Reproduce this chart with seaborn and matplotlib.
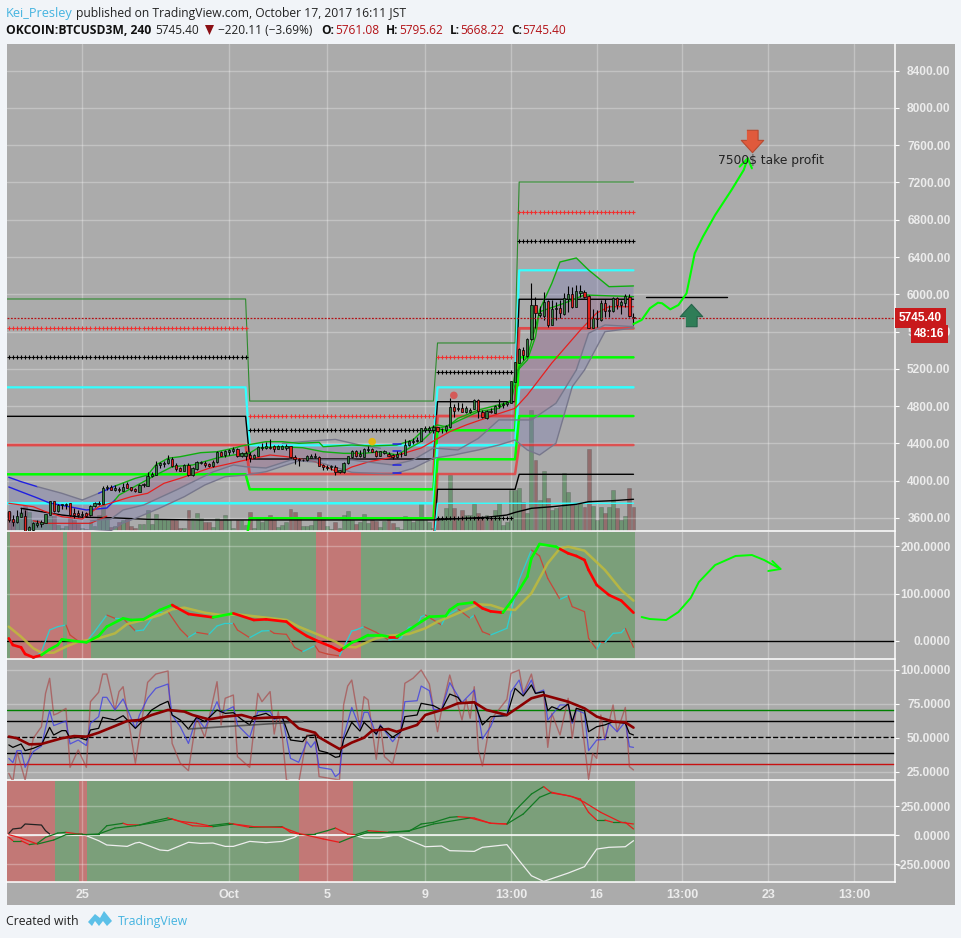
import numpy as np
import pandas as pd
import matplotlib
matplotlib.use("Agg")
import matplotlib.pyplot as plt
from matplotlib.patches import Rectangle, Polygon
import seaborn as sns

W, H = 962, 938

# candles, one row of values per 4h bar
opens = [3675,3589,3561,3614,3621,3435,3471,3528,3536,3550,3636,3782,3679,3736,3743,3757,3657,3650,3636,3654,3629,3729,3754,3754,3918,3933,3900,3911,3893,3968,3929,3908,3883,3950,3947,4051,4065,4169,4180,4187,4233,4169,4137,4108,4169,4058,4126,4190,4194,4176,4162,4204,4305,4280,4305,4319,
         4340,4269,4269,4276,4247,4269,4347,4347,4362,4372,4344,4344,4347,4369,4254,4233,4219,4219,4247,4254,4258,4165,4140,4143,4147,4097,4097,4186,4254,4315,4262,4258,4333,4340,4315,4269,4297,4290,4279,4258,4283,4279,4383,4419,4426,4430,4548,4544,4548,4573,4551,4541,4576,4794,4766,4776,
         4741,4741,4773,4862,4737,4673,4748,4730,4805,4812,4823,4837,5063,5267,5403,5338,5517,5882,5775,5767,5925,5674,5839,5850,5789,5946,6003,5868,6018,6021,5982,5642,5731,5724,5903,5817,5825,5957,5882,5910,5968,5761]
highs = [3675,3632,3686,3704,3686,3514,3561,3579,3579,3643,3786,3786,3750,3750,3757,3757,3704,3686,3679,3668,3736,3772,3786,3943,3954,3954,3954,3929,3972,3990,3936,3918,3961,3979,4094,4094,4215,4204,4215,4276,4258,4187,4151,4180,4194,4144,4215,4215,4215,4194,4222,4322,4315,4330,4337,4358,
         4347,4312,4319,4312,4283,4376,4401,4412,4448,4383,4383,4383,4390,4376,4276,4247,4233,4276,4283,4294,4269,4176,4169,4169,4169,4115,4197,4269,4326,4330,4326,4347,4376,4354,4330,4322,4326,4312,4290,4319,4312,4448,4437,4455,4469,4569,4591,4591,4598,4580,4569,4598,4891,4820,4841,4830,
         4802,4777,4873,4873,4759,4759,4777,4812,4873,4848,4859,5073,5277,5420,5431,5528,6118,5975,5875,6028,5939,5939,5921,5939,6010,6089,6082,6100,6100,6046,5993,5839,5832,5939,5946,5885,5975,5975,5939,6003,6003,5795]
lows = [3561,3514,3543,3607,3453,3430,3464,3507,3500,3543,3632,3664,3668,3693,3693,3621,3596,3607,3607,3607,3621,3722,3739,3750,3900,3900,3893,3883,3893,3918,3893,3883,3879,3929,3943,4044,4061,4137,4144,4180,4151,4108,4101,4104,4051,4051,4115,4180,4144,4144,4151,4194,4265,4258,4276,4301,
        4258,4258,4222,4197,4240,4265,4330,4340,4340,4312,4340,4337,4330,4240,4183,4158,4211,4211,4240,4240,4154,4118,4111,4118,4061,4083,4079,4179,4247,4254,4258,4254,4312,4305,4258,4265,4283,4262,4233,4247,4254,4276,4376,4397,4419,4426,4526,4526,4512,4526,4508,4519,4569,4687,4748,4734,
        4723,4730,4766,4669,4669,4666,4723,4723,4777,4777,4802,4830,5056,5259,5295,5324,5510,5635,5753,5724,5653,5671,5724,5742,5778,5814,5850,5860,5975,5957,5635,5635,5646,5717,5760,5760,5814,5839,5789,5868,5753,5668]
closes = [3579,3561,3621,3654,3453,3500,3543,3550,3557,3643,3779,3672,3739,3747,3754,3632,3636,3636,3643,3621,3729,3757,3764,3918,3929,3904,3925,3897,3936,3922,3900,3890,3954,3961,4051,4076,4169,4187,4194,4230,4158,4129,4108,4169,4061,4137,4197,4204,4165,4162,4204,4312,4269,4315,4330,4337,
          4265,4297,4297,4247,4276,4362,4362,4369,4347,4344,4369,4372,4372,4251,4236,4226,4226,4262,4265,4269,4161,4147,4151,4154,4093,4111,4190,4262,4319,4269,4283,4340,4340,4312,4265,4315,4319,4269,4258,4287,4290,4387,4426,4426,4437,4562,4562,4569,4576,4537,4558,4583,4794,4748,4777,4741,
          4780,4759,4866,4752,4680,4748,4734,4805,4812,4823,4841,5066,5270,5410,5345,5521,5882,5796,5796,5921,5674,5839,5853,5796,5957,6003,5868,6032,6032,5975,5642,5742,5746,5903,5817,5832,5957,5882,5914,5982,5771,5745]
volume = [19,11,9,19,25,19,11,11,9,11,15,15,6,3,5,13,11,7,3,2,9,5,16,26,13,4,5,9,11,12,5,3,7,7,21,7,17,12,12,11,12,11,3,3,21,13,18,13,9,9,4,13,11,16,11,3,
          11,11,6,19,3,12,9,14,16,11,4,6,9,22,19,14,5,5,6,11,19,14,5,2,9,3,16,20,11,7,9,17,8,11,10,4,10,12,8,4,2,15,13,9,11,29,11,9,3,13,13,23,56,23,12,21,
          16,16,27,18,13,16,13,21,28,6,9,41,41,43,29,18,121,71,31,60,33,21,23,24,58,39,28,26,28,24,82,25,11,24,18,24,41,23,11,15,43,24]

# pivot levels, one value per period
step_bars = [-0.4, 58, 59, 104, 105, 124, 125, 153]
r3_level = [5950, 4855, 5478, 7205]
r2_level = [5639, 4691, 5324, 6883]
r1_level = [5327, 4541, 5163, 6568]
pp_level = [5002, 4380, 5002, 6258]
p2_level = [4691, 4233, 4848, 5947]
s1_level = [4383, 4072, 4694, 5635]
s2_level = [4069, 3908, 4541, 5324]
s3_level = [3758, 3758, 4380, 5002]
s4_level = [3300, 3597, 4230, 4694]
s5_level = [3300, 3300, 4072, 4383]
s6_level = [3300, 3300, 3908, 4069]
s7_level = [3300, 3300, 3758, 3758]
period_bars = [(0, 58), (59, 104), (105, 123), (125, 153)]
low_plus_level = 3597

# bands
upper_x = [0,3,7,13,18,22,26,31,34,36,39,42,47,51,55,57,63,67,71,76,77,84,89,95,99,101,105,107,115,120,123,124,127,129,130,133,135,139,142,145,147,153]
upper_y = [4037,3990,3936,3865,3793,3865,3943,4026,4061,4169,4241,4258,4301,4311,4348,4373,4419,4419,4401,4412,4365,4383,4373,4383,4437,4523,4598,4580,4741,4777,4866,5156,5295,5545,5832,6118,6347,6390,6261,6154,6082,6090]
inner_x = [0,3,7,10,19,24,26,27,33,36,40,45,51,55,59,61,66,72,77,82,87,91,95,101,104,108,110,115,123,125,127,130,136,141,153]
inner_y = [3933,3882,3815,3761,3686,3707,3793,3847,3989,4061,4150,4169,4244,4276,4297,4351,4365,4354,4311,4294,4294,4311,4276,4419,4544,4598,4670,4759,4848,5223,5331,5813,5904,5993,5975]
mid_x = [0,6,9,13,18,22,30,34,38,42,49,58,64,68,75,81,84,88,93,101,108,112,119,124,127,133,140,144,147,153]
mid_y = [3758,3721,3668,3614,3589,3721,3829,3865,3972,4026,4133,4222,4276,4258,4204,4083,4147,4201,4244,4351,4526,4598,4705,4777,4920,5263,5617,5800,5867,5867]
lower_x = [0,25,28,32,37,43,48,53,58,63,71,76,84,94,99,104,109,115,120,124,127,130,134,138,141,146,153]
lower_y = [3400,3464,3546,3614,3707,3829,3954,4043,4061,4097,4212,4198,4090,4069,4133,4241,4276,4330,4383,4437,4330,4276,4401,5009,5188,5599,5639]
lower2_x = [20,25,28,33,41,50,55,58,63,69,84,94,99,104,110,115,120,128,134,139,142,146,153]
lower2_y = [3568,3589,3686,3739,3900,4094,4169,4150,4137,4222,4222,4169,4222,4351,4330,4454,4652,4652,4831,5188,5582,5671,5653]
upper_gray_x = [67,74,80,86,91]
upper_gray_y = [4401,4426,4443,4383,4348]
blue_dash_x = [94, 96]
blue_dash_levels = [4394, 4319, 4165, 4083]
red_low_x = [6, 9, 20, 24]
red_low_y = [3570, 3543, 3543, 3620]
ma_x = [3,8,13,18,25,34,47,58,70,85,104,117,122,124,128,133,139,142,148,153]
ma_y = [3704,3668,3632,3608,3603,3586,3579,3579,3579,3579,3579,3608,3632,3660,3704,3721,3747,3775,3786,3801]
last_price = 5745.40

# drawing on the future side of the chart
trend_x = [156, 176]
trend_y = [5970, 5970]
path_x = [153,155,157,159,160,162,164,166,167,168,170,173,177,180,181]
path_y = [5682,5725,5850,5910,5904,5839,5885,6011,6225,6440,6618,6851,7119,7334,7459]
path_head_x = [179, 181, 182]
path_head_y = [7370, 7459, 7352]
sell_x, sell_y = [182], [7645]
buy_x, buy_y = [167], [5778]
dot_x = [89, 109]
dot_y = [4419, 4916]

# first oscillator panel
zone2_red = [(0.3, 13.3), (14.3, 20.2), (75.2, 86.3)]
zone2_green = [(-0.44, 0.3), (13.3, 14.3), (20.2, 75.2), (86.3, 153.4)]
wt_x = [0,1,3,4,6,8,10,12,13,16,19,22,24,28,30,33,37,40,41,44,50,55,60,63,68,70,73,76,79,81,82,84,86,88,91,93,95,98,101,103,107,108,110,114,116,118,121,123,125,127,128,130,134,135,137,139,141,142,144,147,150,153]
wt_y = [5.6,-8.4,-13.3,-27.4,-34.4,-29.5,-17.5,-8.4,3.5,0,-2.8,10.5,30.2,47.7,44.2,45.6,65.3,75.8,70.9,56.8,49.8,58.2,44.2,45.6,40.7,26.7,10.5,-1.4,-11.9,-20.4,-15.4,-3.5,3.5,12.6,12.6,9.1,9.1,23.2,40.7,51.2,52.6,65.3,77.2,81.4,68.8,62.5,59.6,82.8,107.4,135.4,174,204.2,198.6,193.7,184.6,179,170.5,149.5,117.9,96.8,84.9,59.6]
wt_green = [(8.5, 39.5), (49.7, 55), (82.3, 92.5), (95.4, 114.2), (121.5, 134.6)]
signal_x = [0,3,6,8,11,14,17,22,26,29,33,37,40,43,48,52,56,61,68,71,76,80,82,85,88,90,93,98,102,105,109,115,118,121,124,128,132,135,137,141,146,150,153]
signal_y = [30.2,9.1,-15.4,-24.6,-24.6,-11.9,-1.4,5.6,16.1,35.8,44.2,54.7,66.7,70.2,59.6,54.7,56.1,51.2,44.2,30.2,12.6,-1.4,-11.9,-13.3,-1.4,5.6,11.2,14.7,26.7,40.7,54.7,77.2,75.8,67.4,65.3,100.4,163.5,195.1,198.6,190.2,149.5,107.4,84.9]
fast_x = [0,3,6,8,10,12,14,15,17,19,21,24,26,28,31,33,35,37,39,42,44,46,49,51,53,55,56,59,62,64,65,68,70,72,75,76,78,81,84,85,87,90,93,96,98,100,101,102,106,107,110,113,114,116,118,122,125,128,130,132,135,137,138,141,142,144,145,146,148,150,151,153]
fast_y = [-45,-45,-38,-22.5,23.2,30.2,33.7,12.6,0,-1.4,19.6,54.7,47.7,47.7,21.1,23.2,47.7,61.8,61.8,24.6,7.7,18.2,14,31.6,37.2,37.2,23.2,7,21.1,21.8,16.1,14,-13.3,-22.5,-9.8,-22.5,-27.4,-31.6,21.1,23.2,30.2,18.2,2.1,5.6,28.8,32.3,51.2,54.7,33.7,51.2,67.4,47.7,54.7,19.6,12.6,26.7,128.4,191.6,179,131.9,87.7,95.4,72.3,61.8,5.6,-17.5,-2.8,-3.5,16.1,17.5,26.7,-13.3]
curve_x = [155,157,161,164,167,169,173,178,182,185,189]
curve_y = [50.5,46.3,44.2,61,90.5,124,160,179,181,170.5,151.6]
curve_head_x = [187, 189, 186]
curve_head_y = [168.4, 151.6, 147.4]

# second oscillator panel
rsi_levels = [70.3, 62.8, 50.5, 38.7, 31.2]
rsi_ma_x = [0,2,5,8,13,16,19,22,26,29,32,35,39,43,45,49,53,57,60,65,68,71,75,76,79,81,84,87,89,93,95,100,102,106,110,114,117,122,125,128,131,137,141,144,148,151,153]
rsi_ma_y = [51,49.8,45.3,45.6,49.8,51.4,51,53.9,58.8,62.5,63.2,66.9,70.6,69.4,66.9,63.7,65.7,66.9,64.4,65.2,65.2,57.1,53.9,50.5,45.3,41.9,46.6,50.2,55.4,56.6,54.6,59.6,66.9,70.6,75.5,76.2,70.6,66.9,73,79.2,81.6,76.7,71.8,65.7,62,61.5,57.6]
rsi_x = [0,1,3,4,6,8,10,11,13,14,15,17,19,20,22,23,26,28,31,33,35,37,39,40,42,44,46,48,51,53,55,57,59,60,63,65,67,69,72,73,75,76,78,80,81,82,84,86,87,90,91,94,96,97,100,101,104,106,108,110,111,114,116,118,122,124,126,128,129,131,132,133,135,137,138,139,141,142,144,146,148,151,152,153]
rsi_y = [44.9,43.1,45.6,40.7,42.4,44.9,57.8,52.2,55.4,55.4,49.8,50.5,48.5,55.9,57.1,65.2,63.2,66.4,57.1,63.2,70.6,74.3,77,66.9,63.2,56.6,65.2,62,70.6,68.1,68.6,63.7,59.6,65.7,68.1,64.4,65.2,48.5,47.3,51.4,52.2,40.7,39.2,35.8,36.3,48.5,61.5,55.1,61.5,52.9,58.8,50.5,54.6,65.7,66.9,75.5,73.8,70.6,82.3,79.9,75.5,76.7,59.6,65.7,66.4,86.5,80.9,89,82.8,84,70.1,73,70.6,75,62,71.8,70.1,54.6,58.3,59.6,62,60.8,53.4,52.2]
blue_x = [0,1,2,3,4,6,8,10,11,14,15,17,19,20,22,23,24,26,28,31,32,34,36,39,40,42,44,46,48,51,52,55,56,59,61,64,65,67,69,71,73,74,75,76,79,80,81,82,84,86,87,88,90,91,94,96,97,100,101,103,104,106,108,111,112,114,116,118,119,122,123,125,126,128,129,131,132,135,137,138,139,141,142,144,146,147,149,151,152,153]
blue_y = [35,31.9,40.7,40.7,28.4,40,44.1,70.1,59.1,62.5,45.6,48.5,44.4,60.8,65.7,79.9,79.9,70.6,78.7,57.1,66.9,79.2,86.5,89.7,66.9,58.3,46,65.2,57.1,76.7,68.6,73,59.6,50.5,69.4,69.4,63.7,65.7,35,32.1,47.3,43.1,47.3,28.4,26.9,21.6,24,51,72.5,57.1,68.9,68.9,52.2,59.6,47.3,54.6,76.7,77.4,88.2,84.8,71.1,70.6,90.7,76,79.2,85.3,49.3,58.3,65.7,66.9,84,92.6,81.6,92.6,82.8,85.3,63.2,74.3,74.3,60.8,70.6,68.1,40.7,48.5,49,60.8,54.6,62,43.6,43.1]
stoch_x = [0,1,2,4,6,8,9,10,11,12,14,15,17,19,20,22,23,24,26,27,28,31,34,36,39,40,42,44,46,48,51,52,53,55,56,59,61,62,64,65,66,67,68,71,72,73,75,76,81,82,83,84,86,87,88,90,91,92,94,96,97,99,101,103,105,106,108,111,112,113,114,115,116,118,122,123,125,126,128,129,131,132,133,135,137,138,139,140,142,143,144,145,146,148,149,151,152,153]
stoch_y = [24,17.9,40,19.1,49.8,58.3,82.8,93.9,66.9,68.1,71.8,28.4,41.2,28.4,76.7,83.6,97,97,70.6,84.1,87.7,31.4,90.9,97,99.3,46,31.4,26,65.2,50.5,91.4,59.6,79.2,81.6,36.3,28.4,82.8,76.7,84.1,52.9,69.4,50.5,19.1,17.2,33.8,52.2,52.9,21.6,19.1,74.3,88.2,92.6,57.1,80.4,78,34.3,59.6,36.3,30.9,55.4,90.2,93.9,100,89.7,54.6,70.6,96.3,63.2,78.4,64.5,87.7,41.2,29.4,63.2,78.4,97.5,100,82.8,97,82.8,84,43.1,68.1,52.2,79.2,49.8,71.8,70.6,19.6,38.7,35,66.9,48.5,74.3,54.6,72.5,28.9,26.5]
rsi_trend_x = [44, 72]
rsi_trend_y = [56.6, 62]

# third oscillator panel
zone4_red = [(-0.44, 11.3), (17.2, 19.2), (71, 84.3)]
zone4_green = [(11.3, 17.2), (19.2, 71), (84.3, 153.4)]
plus_x = [0,1,3,5,7,9,12,14,17,19,22,24,28,29,32,36,39,42,46,49,54,59,67,69,71,75,78,80,83,85,88,93,98,101,104,108,110,114,118,122,124,128,131,133,137,140,142,144,146,148,151,153]
plus_y = [-20,-49,-49,-83,-72,-20,17,23,9,3,9,80,101,89,86,124,147,118,101,80,101,66,72,23,9,9,37,60,9,3,37,23,32,95,109,152,158,147,101,95,210,353,417,362,339,310,195,129,129,109,109,52]
minus_x = [0,3,7,11,14,18,22,26,31,36,40,45,50,55,60,67,71,77,81,84,88,93,98,104,113,118,122,126,130,133,138,141,145,150,153]
minus_y = [3,-26,-78,-43,3,9,9,60,80,109,138,80,72,95,72,66,14,-34,-63,-20,23,23,37,95,147,101,95,181,325,368,331,282,195,109,95]
early_x = [0,1,3,4,8,9,10]
early_y = [14,52,60,95,86,37,9]
white_x = [0,18,19,22,24,29,31,32,37,39,44,47,50,53,55,59,63,67,70,71,78,84,87,91,95,98,102,106,108,114,116,122,125,128,131,137,141,144,147,151,153]
white_y = [-6,0,-6,-49,-86,-98,-69,-63,-129,-135,-63,-72,-69,-98,-98,-55,-66,-55,-20,3,0,3,-26,-26,3,-43,-101,-95,-135,-141,-106,-83,-221,-351,-400,-328,-273,-121,-106,-101,-49]

price_ticks = [3600,4000,4400,4800,5200,5600,6000,6400,6800,7200,7600,8000,8400]
osc1_ticks = [0, 100, 200]
osc2_ticks = [25, 50, 75, 100]
osc3_ticks = [-250, 0, 250]
time_bars = [18, 54, 78, 102, 123, 144, 165, 186, 207]
time_labels = ["25", "Oct", "5", "9", "13:00", "16", "13:00", "23", "13:00"]

PANEL = "#ababab"
PAGE = "#f1f4f8"
GREEN_ZONE = "#7b9f7a"
RED_ZONE = "#c27876"
LIME = "#00ff00"
CYAN = "#33ffff"
TV_BLUE = "#45b4e0"
DARK_RED = "#c8191b"
AXIS_FONT = "Liberation Sans"

sns.set_theme(style="white")
plt.rcParams["font.family"] = ["Open Sans", "DejaVu Sans"]


def px_rect(left, top, right, bottom):
    return [left / W, 1 - bottom / H, (right - left) / W, (bottom - top) / H]


def line(ax, x, y, color, lw=1.0, alpha=1.0, zorder=3, **kw):
    sns.lineplot(x=x, y=y, ax=ax, color=color, linewidth=lw, alpha=alpha, zorder=zorder,
                 estimator=None, sort=False, errorbar=None, **kw)


def steps(levels):
    return [v for v in levels for _ in (0, 1)]


def plus_row(ax, levels, color):
    for (a, b), level in zip(period_bars, levels):
        bars = list(range(a, b + 1))
        sns.scatterplot(x=bars, y=[level] * len(bars), ax=ax, marker="+", color=color,
                        s=6.5, linewidth=0.8, zorder=4, legend=False)


def in_ranges(x, ranges):
    return any(a <= x <= b for a, b in ranges)


def style_panel(ax, ticks, labels, ylim):
    ax.set_facecolor("none")
    ax.set_xlim(-0.44, 217.05)
    ax.set_ylim(*ylim)
    ax.set_xlabel("")
    ax.set_ylabel("")
    ax.yaxis.tick_right()
    ax.set_yticks(ticks)
    ax.set_yticklabels(labels, ha="right", color="#ececec", fontsize=8.6,
                       fontweight="bold", family=AXIS_FONT)
    ax.set_xticks(time_bars)
    ax.set_xticklabels([])
    ax.tick_params(axis="y", which="both", direction="out", length=3, width=0.8,
                   color="white", pad=37, right=True)
    ax.tick_params(axis="x", length=0)
    ax.grid(True, color="white", alpha=0.28, linewidth=1.0)
    ax.set_axisbelow(True)
    for name, spine in ax.spines.items():
        spine.set_visible(name in ("right", "bottom"))
        spine.set_color("white")
        spine.set_linewidth(1.1)


fig = plt.figure(figsize=(W / 100, H / 100), dpi=100, facecolor=PAGE)
fig.patches.append(Rectangle((7 / W, 1 - 905 / H), 948 / W, 861 / H, transform=fig.transFigure,
                             facecolor=PANEL, edgecolor="none", zorder=-5))

# volume sits under the price axes
ax_vol = fig.add_axes(px_rect(7, 44, 895, 531))
vol_df = pd.DataFrame({"bar": np.arange(len(volume)), "volume": volume,
                       "side": ["up" if c >= o else "down" for o, c in zip(opens, closes)]})
sns.barplot(data=vol_df, x="bar", y="volume", hue="side", native_scale=True, dodge=False,
            palette={"up": "#2e8b3a", "down": "#8b2f2f"}, alpha=0.55, width=0.95,
            edgecolor="#555555", linewidth=0.4, legend=False, ax=ax_vol)
ax_vol.set_xlim(-0.44, 217.05)
ax_vol.set_ylim(0, 487)
ax_vol.set_facecolor("none")
ax_vol.axis("off")

ax = fig.add_axes(px_rect(7, 44, 895, 531))
ax.set_zorder(ax_vol.get_zorder() + 1)

# band shading, drawn as polygons straight from the band readings
ax.add_patch(Polygon(list(zip(upper_x + lower_x[::-1], upper_y + lower_y[::-1])),
                     facecolor="#7474b8", alpha=0.3, edgecolor="none", zorder=1))
ax.add_patch(Polygon(list(zip(inner_x + lower2_x[::-1], inner_y + lower2_y[::-1])),
                     facecolor="#d04848", alpha=0.14, edgecolor="none", zorder=1))

line(ax, step_bars, steps(r3_level), "#2e8b2e", 0.8)
line(ax, step_bars, steps(pp_level), CYAN, 1.6)
line(ax, step_bars, steps(p2_level), "black", 1.0)
line(ax, step_bars, steps(s1_level), "#f02a2a", 2.0, alpha=0.75)
line(ax, step_bars, steps(s2_level), LIME, 1.8)
line(ax, step_bars, steps(s3_level), CYAN, 1.8)
line(ax, step_bars, steps(s4_level), LIME, 1.8)
line(ax, step_bars, steps(s5_level), "#f02a2a", 1.8, alpha=0.7)
line(ax, step_bars, steps(s6_level), "black", 1.0)
line(ax, step_bars, steps(s7_level), CYAN, 1.0)
plus_row(ax, r2_level, "#f03030")
plus_row(ax, r1_level, "black")
low_bars = list(range(105, 124))
sns.scatterplot(x=low_bars, y=[low_plus_level] * len(low_bars), ax=ax, marker="+", color="black",
                s=6.5, linewidth=0.8, zorder=4, legend=False)

line(ax, ma_x, ma_y, "black", 1.0)
line(ax, red_low_x, red_low_y, "#d62020", 0.9)
line(ax, upper_gray_x, upper_gray_y, "#77778c", 1.0)
line(ax, upper_x[:3], upper_y[:3], "#2020e0", 1.0)
line(ax, upper_x[2:6], upper_y[2:6], "#77778c", 1.0)
line(ax, upper_x[5:7], upper_y[5:7], "#2020e0", 1.0)
line(ax, upper_x[6:], upper_y[6:], "#0fae0f", 1.0)
line(ax, inner_x[:7], inner_y[:7], "#2020e0", 1.0)
line(ax, inner_x[6:], inner_y[6:], "#0fae0f", 1.0)
line(ax, mid_x, mid_y, "#e62020", 0.9)
line(ax, lower_x, lower_y, "#77778c", 1.0)
line(ax, lower2_x, lower2_y, "#77778c", 1.0)
for level in blue_dash_levels:
    line(ax, blue_dash_x, [level, level], "#2020e0", 1.1, zorder=4)

# candles
bars = np.arange(len(opens))
ax.vlines(bars, lows, highs, color="black", linewidth=0.8, zorder=5)
body_low = np.minimum(opens, closes)
body_height = np.abs(np.array(closes) - np.array(opens))
body_color = ["#2f7d3c" if c >= o else "#e0201c" for o, c in zip(opens, closes)]
ax.bar(bars, body_height, bottom=body_low, width=0.55, color=body_color, edgecolor="black",
       linewidth=0.5, zorder=6)

sns.scatterplot(x=dot_x, y=dot_y, ax=ax, hue=dot_x, palette=["#e8b800", "#d9534f"], s=30,
                edgecolor="none", alpha=0.9, zorder=7, legend=False)

ax.axhline(last_price, color="#b31217", linewidth=0.9, linestyle=(0, (1.5, 1.2)), zorder=7)

line(ax, trend_x, trend_y, "black", 1.0)
line(ax, path_x, path_y, LIME, 1.5, zorder=8)
line(ax, path_head_x, path_head_y, LIME, 1.5, zorder=8)
down_arrow = [(-0.5, 1), (0.5, 1), (0.5, 0.1), (1, 0.1), (0, -1), (-1, 0.1), (-0.5, 0.1)]
up_arrow = [(x, -y) for x, y in down_arrow]
sns.scatterplot(x=sell_x, y=sell_y, ax=ax, marker=down_arrow, color="#e05a3c", s=260,
                edgecolor="#b84a30", linewidth=0.8, zorder=8, legend=False)
sns.scatterplot(x=buy_x, y=buy_y, ax=ax, marker=up_arrow, color="#2f7d57", s=260,
                edgecolor="#25634a", linewidth=0.8, zorder=8, legend=False)
ax.text(186.7, 7441, "7500$ take profit", ha="center", va="center", fontsize=8.8,
        color="#222222", family="DejaVu Sans", zorder=9)

style_panel(ax, price_ticks, [f"{v:.2f}" for v in price_ticks], (3460.5, 8686))
ax.text(1.0045, last_price, "5745.40", transform=ax.get_yaxis_transform(), ha="left", va="center",
        color="white", fontsize=8.6, fontweight="bold", family=AXIS_FONT, zorder=12, clip_on=False,
        bbox=dict(facecolor=DARK_RED, edgecolor="none", boxstyle="square,pad=0.3"))
ax.text(1.0215, 5575, "48:16", transform=ax.get_yaxis_transform(), ha="left", va="center",
        color="white", fontsize=8.6, fontweight="bold", family=AXIS_FONT, zorder=12, clip_on=False,
        bbox=dict(facecolor=DARK_RED, edgecolor="none", boxstyle="square,pad=0.28"))

# first oscillator
ax2 = fig.add_axes(px_rect(7, 532, 895, 659))
for a, b in zone2_red:
    ax2.axvspan(a, b, color=RED_ZONE, linewidth=0, zorder=0)
for a, b in zone2_green:
    ax2.axvspan(a, b, color=GREEN_ZONE, linewidth=0, zorder=0)
ax2.axhline(0, color="black", linewidth=1.0, zorder=2)
for x0, x1, y0, y1 in zip(fast_x[:-1], fast_x[1:], fast_y[:-1], fast_y[1:]):
    ax2.plot([x0, x1], [y0, y1], color="#2ed0d0" if y1 >= y0 else "#c8483a", linewidth=0.9, zorder=3)
line(ax2, signal_x, signal_y, "#c0bb3c", 1.8, alpha=0.85, zorder=4)
for x0, x1, y0, y1 in zip(wt_x[:-1], wt_x[1:], wt_y[:-1], wt_y[1:]):
    ax2.plot([x0, x1], [y0, y1], color=LIME if in_ranges((x0 + x1) / 2, wt_green) else "#ff0000",
             linewidth=1.9, solid_capstyle="round", zorder=5)
line(ax2, curve_x, curve_y, LIME, 1.4)
line(ax2, curve_head_x, curve_head_y, LIME, 1.4)
style_panel(ax2, osc1_ticks, [f"{v:.4f}" for v in osc1_ticks], (-37.9, 229.5))

# second oscillator
ax3 = fig.add_axes(px_rect(7, 660, 895, 780))
line(ax3, stoch_x, stoch_y, "#a83c3c", 1.0, alpha=0.6)
line(ax3, blue_x, blue_y, "#3838e6", 0.9, alpha=0.75)
line(ax3, rsi_x, rsi_y, "black", 0.9)
line(ax3, rsi_trend_x, rsi_trend_y, "#444444", 1.2, alpha=0.8)
for level, color, style in zip(rsi_levels, ["#008000", "black", "black", "black", "#c81010"],
                               ["-", "-", "--", "-", "-"]):
    ax3.axhline(level, color=color, linewidth=1.0, linestyle=style, zorder=2)
line(ax3, rsi_ma_x, rsi_ma_y, "#8b0000", 1.9, zorder=5)
style_panel(ax3, osc2_ticks, [f"{v:.4f}" for v in osc2_ticks], (19.1, 107.35))

# third oscillator
ax4 = fig.add_axes(px_rect(7, 781, 895, 882))
for a, b in zone4_red:
    ax4.axvspan(a, b, color=RED_ZONE, linewidth=0, zorder=0)
for a, b in zone4_green:
    ax4.axvspan(a, b, color=GREEN_ZONE, linewidth=0, zorder=0)
ax4.axhline(0, color="white", linewidth=1.1, zorder=2)
line(ax4, white_x, white_y, "#eeeeee", 0.9)
line(ax4, early_x, early_y, "#222222", 0.9)
for xs, ys in ((plus_x, plus_y), (minus_x, minus_y)):
    for x0, x1, y0, y1 in zip(xs[:-1], xs[1:], ys[:-1], ys[1:]):
        ax4.plot([x0, x1], [y0, y1], color="#127a22" if y1 >= y0 else "#e81c1c", linewidth=0.9, zorder=4)
style_panel(ax4, osc3_ticks, [f"{v:.4f}" for v in osc3_ticks], (-405, 465.5))
ax4.set_xticklabels(time_labels, color="#ececec", fontsize=9, fontweight="bold", family=AXIS_FONT)
ax4.tick_params(axis="x", pad=5)

# header and footer
def page_text(px, py, text, **kw):
    fig.text(px / W, 1 - py / H, text, va="center", ha="left", **kw)


page_text(6, 13, "Kei_Presley", fontsize=9.2, color=TV_BLUE)
page_text(76, 13, "published on TradingView.com, October 17, 2017 16:11 JST", fontsize=8.75, color="#222222")
page_text(6, 30, "OKCOIN:BTCUSD3M, 240", fontsize=8.7, fontweight="bold", color="#111111")
page_text(155, 30, "5745.40", fontsize=8.6, color="#222222")
fig.patches.append(Polygon([(205 / W, 1 - 25 / H), (214 / W, 1 - 25 / H), (209.5 / W, 1 - 35 / H)],
                           transform=fig.transFigure, facecolor="#8b0f14", edgecolor="none"))
page_text(218, 30, "\u2212220.11 (\u22123.69%)", fontsize=8.6, color="#222222")
for px, label, value_px, value in ((321, "O:", 335, "5761.08"), (386, "H:", 399, "5795.62"),
                                   (450, "L:", 460, "5668.22"), (511, "C:", 522, "5745.40")):
    page_text(px, 30, label, fontsize=8.6, fontweight="bold", color="#111111")
    page_text(value_px, 30, value, fontsize=8.6, color="#b31217")

page_text(6, 921, "Created with", fontsize=8.8, color="#222222")
page_text(118, 921, "TradingView", fontsize=8.8, color=TV_BLUE)
logo = [(88, 922), (95, 914), (100, 918), (104, 911), (112, 921), (107, 926), (103, 921), (99, 926), (95, 921), (92, 926)]
fig.patches.append(Polygon([(x / W, 1 - y / H) for x, y in logo], transform=fig.transFigure,
                           facecolor="#5cc0e8", edgecolor="none"))

fig.savefig("out.png", dpi=100, facecolor=PAGE)
